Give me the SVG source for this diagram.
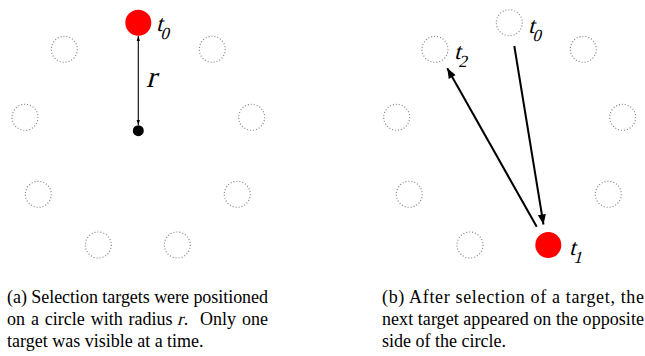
<svg xmlns="http://www.w3.org/2000/svg" width="645" height="356" viewBox="0 0 645 356">
<defs>
<style>
.slot{fill:none;stroke:#808080;stroke-width:1.1;stroke-dasharray:1 2}
.active{fill:#ff0000;stroke:none}
.lbl{font-family:"Liberation Serif","Times New Roman",serif;font-style:normal;fill:#000}
.t{font-size:23px}
.sub{font-size:17px}
.cap{font-family:"Liberation Serif","Times New Roman",serif;font-size:18px;fill:#000}
.conn{stroke:#000;fill:none}
</style>
<marker id="ah" viewBox="0 0 10 8" refX="10" refY="4" markerWidth="11" markerHeight="8" markerUnits="userSpaceOnUse" orient="auto">
<path d="M0,0 L10,4 L0,8 Z" fill="#000"/>
</marker>
<marker id="ahs" viewBox="0 0 6 4" refX="6" refY="2" markerWidth="5" markerHeight="4" markerUnits="userSpaceOnUse" orient="auto-start-reverse">
<path d="M0,0 L6,2 L0,4 Z" fill="#000"/>
</marker>
</defs>
<rect width="645" height="356" fill="#fff"/>

<!-- Panel (a) -->
<g id="panel-a-slots">
<circle class="slot" cx="64.3" cy="49.3" r="13"/>
<circle class="slot" cx="212.3" cy="49.3" r="13"/>
<circle class="slot" cx="25" cy="117.3" r="13"/>
<circle class="slot" cx="251.7" cy="117.3" r="13"/>
<circle class="slot" cx="38.3" cy="194.3" r="13"/>
<circle class="slot" cx="237.3" cy="194.3" r="13"/>
<circle class="slot" cx="98.3" cy="245" r="13"/>
<circle class="slot" cx="177.3" cy="245" r="13"/>
</g>
<g id="a-t0">
<circle class="active" cx="138.3" cy="22.7" r="13"/>
<text class="lbl" transform="translate(156,31) skewX(-15)"><tspan class="t">t</tspan><tspan class="sub" dy="8">0</tspan></text>
</g>
<g id="a-center">
<circle cx="138.3" cy="130.7" r="5.5" fill="#000"/>
</g>

<!-- Panel (b) -->
<g id="panel-b-slots">
<circle class="slot" cx="583.3" cy="49.3" r="13"/>
<circle class="slot" cx="396.7" cy="117.3" r="13"/>
<circle class="slot" cx="622.7" cy="117.3" r="13"/>
<circle class="slot" cx="409.3" cy="194.3" r="13"/>
<circle class="slot" cx="608.3" cy="194.3" r="13"/>
<circle class="slot" cx="470" cy="245" r="13"/>
</g>
<g id="b-t0">
<circle class="slot" cx="509.3" cy="22.7" r="13"/>
<text class="lbl" transform="translate(528,33) skewX(-15)"><tspan class="t">t</tspan><tspan class="sub" dy="8">0</tspan></text>
</g>
<g id="b-t2">
<circle class="slot" cx="435" cy="49.3" r="13"/>
<text class="lbl" transform="translate(454,59) skewX(-15)"><tspan class="t">t</tspan><tspan class="sub" dy="8">2</tspan></text>
</g>
<g id="b-t1">
<circle class="active" cx="548.3" cy="245" r="13"/>
<text class="lbl" transform="translate(569,255) skewX(-15)"><tspan class="t">t</tspan><tspan class="sub" dy="8">1</tspan></text>
</g>

<g id="connectors">
<line class="conn" x1="138.3" y1="36" x2="138.3" y2="125" stroke-width="1.1" marker-start="url(#ahs)" marker-end="url(#ahs)"/>
<text class="lbl" transform="translate(146,87) skewX(-15)" font-size="30">r</text>
<line class="conn" x1="514.3" y1="46" x2="543.5" y2="224.5" stroke-width="2" marker-end="url(#ah)"/>
<line class="conn" x1="536.7" y1="226.7" x2="447.3" y2="68.3" stroke-width="2" marker-end="url(#ah)"/>
</g>

<!-- Captions -->
<g id="caption-a">
<text class="cap" x="7" y="303" textLength="261" lengthAdjust="spacing">(a) Selection targets were positioned</text>
<text class="cap" x="7" y="325" word-spacing="1.4">on a circle with radius</text>
<text class="cap" transform="translate(177,325) skewX(-15)">r</text>
<text class="cap" x="268" y="325" text-anchor="end" word-spacing="1.4" xml:space="preserve">.  Only one</text>
<text class="cap" x="7" y="347">target was visible at a time.</text>
</g>
<g id="caption-b">
<text class="cap" x="382" y="303" textLength="262" lengthAdjust="spacing">(b) After selection of a target, the</text>
<text class="cap" x="382" y="325" textLength="262" lengthAdjust="spacing">next target appeared on the opposite</text>
<text class="cap" x="382" y="347">side of the circle.</text>
</g>
</svg>
